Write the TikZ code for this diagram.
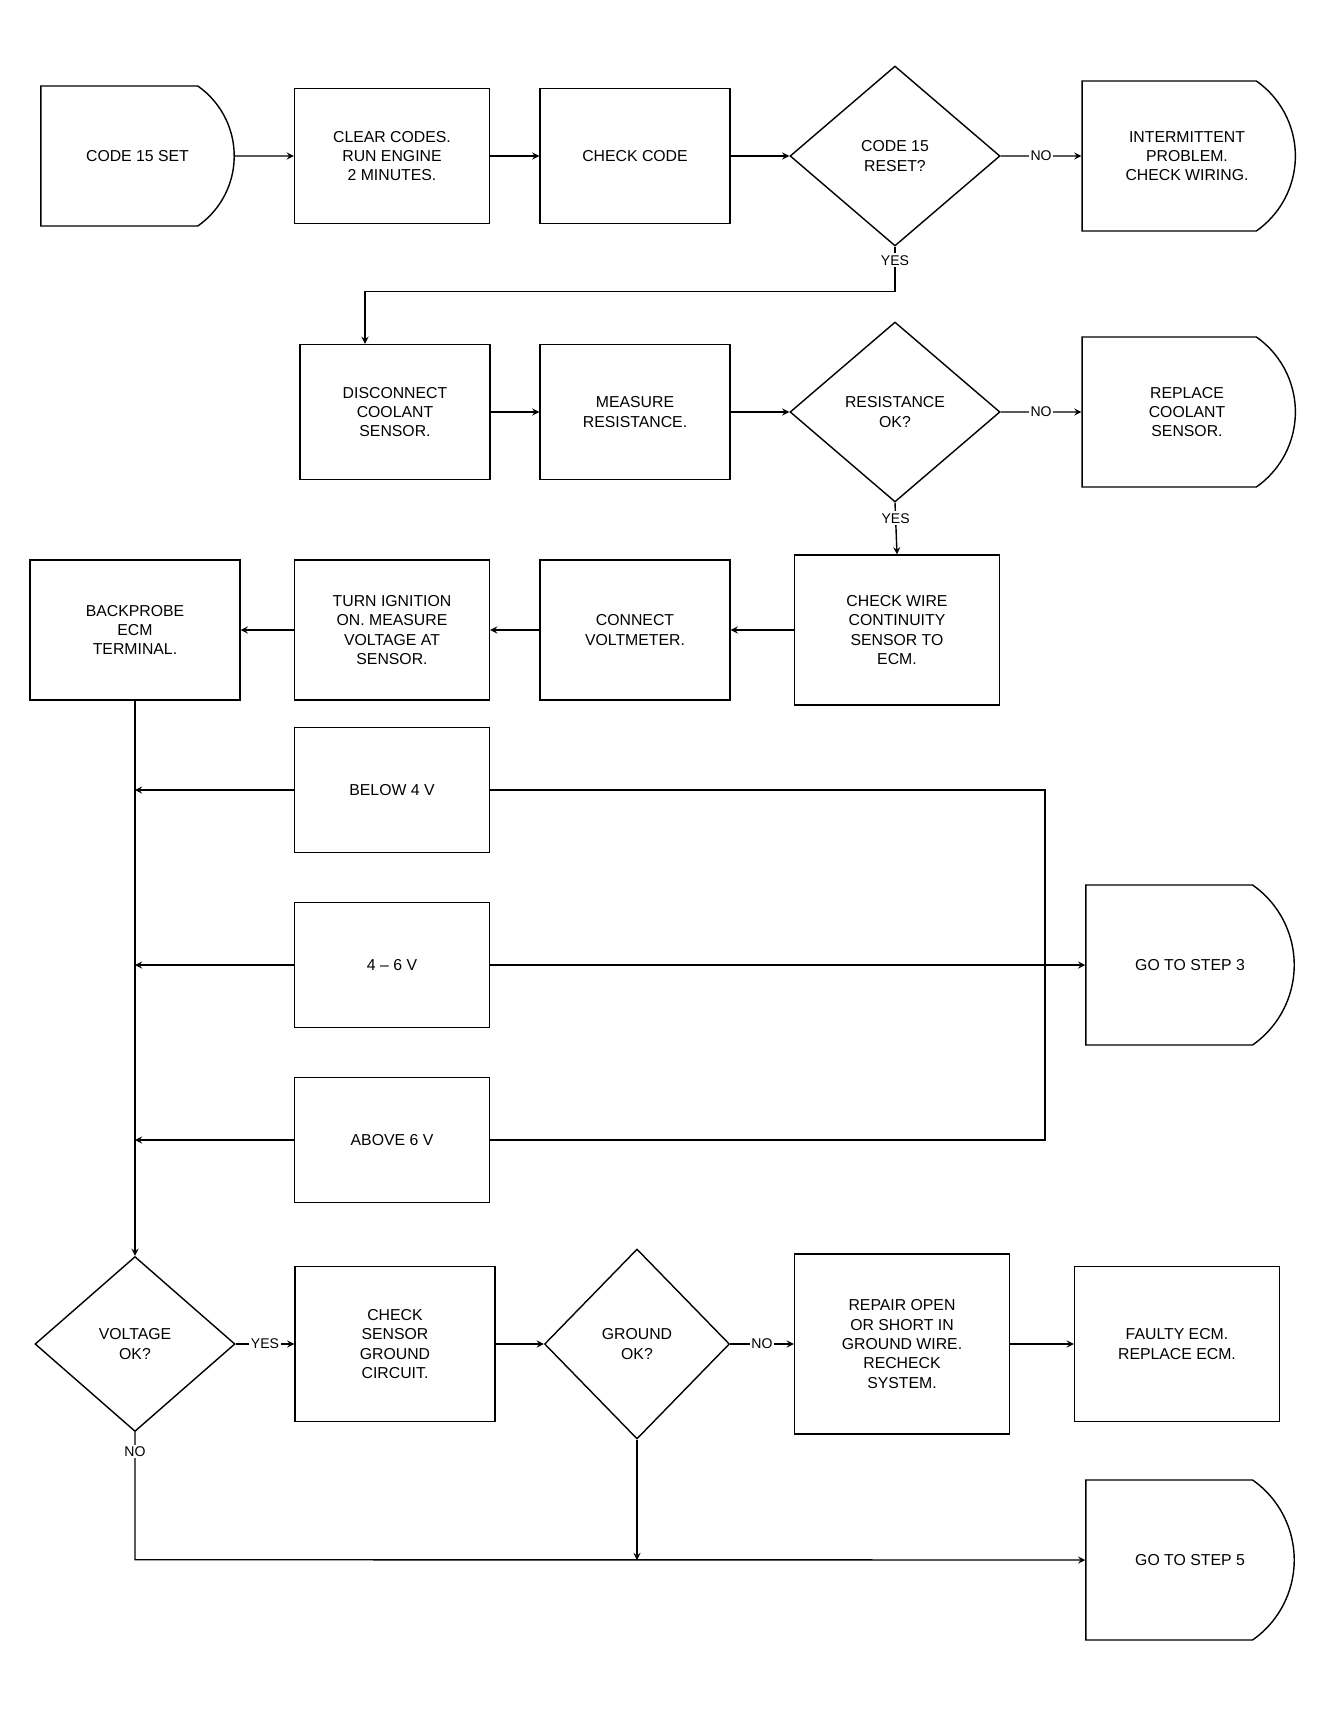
\documentclass[tikz,border=0pt]{standalone}
\usepackage{fontspec}
\setmainfont{Liberation Sans}
\usepackage{tikz}
\usetikzlibrary{arrows,shapes,positioning}
\tikzstyle{arrow} = [thick,->,>=stealth]
\tikzstyle{stepbox} = [rectangle, draw, thick, minimum width=3.9cm, minimum height=2.7cm, text centered, align=center, font=\small]
\tikzstyle{decision} = [diamond, draw, thick, minimum width=4.2cm, minimum height=3.6cm, inner sep=0pt, align=center, font=\small]
\tikzstyle{exitbox} = [rounded rectangle, rounded rectangle left arc=none, rounded rectangle arc length=110, draw, thick, minimum width=4.4cm, minimum height=3cm, align=center, font=\small]
\tikzstyle{answer} = [fill=white, font=\footnotesize, inner sep=1pt]

\begin{document}
\begin{tikzpicture}
\useasboundingbox (0,0) rectangle (26.82,-34.46);

% Row 1: start and first check
\node[exitbox, minimum width=4.1cm, minimum height=2.8cm] (start) at (2.75,-3.12) {CODE 15 SET};
\node[stepbox] (clear) at (7.84,-3.12) {CLEAR CODES.\\RUN ENGINE\\2 MINUTES.};
\node[stepbox, minimum width=3.8cm] (read) at (12.7,-3.12) {CHECK CODE};
\node[decision] (reset) at (17.9,-3.12) {CODE 15\\RESET?};
\node[exitbox, minimum width=4.5cm] (intermit) at (23.74,-3.12) {INTERMITTENT\\PROBLEM.\\CHECK WIRING.};

% Row 2: sensor resistance
\node[stepbox, minimum width=3.8cm] (unplug) at (7.9,-8.24) {DISCONNECT\\COOLANT\\SENSOR.};
\node[stepbox, minimum width=3.8cm] (ohms) at (12.7,-8.24) {MEASURE\\RESISTANCE.};
\node[decision] (ohmsok) at (17.9,-8.24) {RESISTANCE\\OK?};
\node[exitbox, minimum width=4.5cm] (sensor) at (23.74,-8.24) {REPLACE\\COOLANT\\SENSOR.};

% Row 3: wiring and voltage
\node[stepbox, minimum width=4.1cm, minimum height=3cm] (wire) at (17.94,-12.6) {CHECK WIRE\\CONTINUITY\\SENSOR TO\\ECM.};
\node[stepbox, minimum width=3.8cm, minimum height=2.8cm] (meter) at (12.7,-12.6) {CONNECT\\VOLTMETER.};
\node[stepbox, minimum height=2.8cm] (ignon) at (7.84,-12.6) {TURN IGNITION\\ON. MEASURE\\VOLTAGE AT\\SENSOR.};
\node[stepbox, minimum width=4.2cm, minimum height=2.8cm] (probe) at (2.7,-12.6) {BACKPROBE\\ECM\\TERMINAL.};

% Voltage readings
\node[stepbox, minimum height=2.5cm] (low) at (7.84,-15.8) {BELOW 4 V};
\node[stepbox, minimum height=2.5cm] (mid) at (7.84,-19.3) {4 -- 6 V};
\node[stepbox, minimum height=2.5cm] (high) at (7.84,-22.8) {ABOVE 6 V};
\node[exitbox, minimum height=3.2cm] (step3) at (23.8,-19.3) {GO TO STEP 3};
\coordinate (rt) at (20.9,-19.3);

% Row 7: ground circuit
\node[decision, minimum width=4cm, minimum height=3.5cm] (voltok) at (2.7,-26.88) {VOLTAGE\\OK?};
\node[stepbox, minimum width=4cm, minimum height=3.1cm] (gnd) at (7.9,-26.88) {CHECK\\SENSOR\\GROUND\\CIRCUIT.};
\node[decision, minimum width=3.7cm, minimum height=3.8cm] (gndok) at (12.74,-26.88) {GROUND\\OK?};
\node[stepbox, minimum width=4.3cm, minimum height=3.6cm] (repair) at (18.04,-26.88) {REPAIR OPEN\\OR SHORT IN\\GROUND WIRE.\\RECHECK\\SYSTEM.};
\node[stepbox, minimum width=4.1cm, minimum height=3.1cm] (ecm) at (23.54,-26.88) {FAULTY ECM.\\REPLACE ECM.};
\node[exitbox, minimum height=3.2cm] (step5) at (23.8,-31.2) {GO TO STEP 5};

% Connectors
\draw[arrow] (start) -- (clear);
\draw[arrow] (clear) -- (read);
\draw[arrow] (read) -- (reset);
\draw[arrow] (reset) -- node[answer] {NO} (intermit);
\draw[arrow] (reset.south) -- node[answer, pos=0.3] {YES} ++(0,-0.9) -| ([xshift=-0.6cm]unplug.north);
\draw[arrow] (unplug) -- (ohms);
\draw[arrow] (ohms) -- (ohmsok);
\draw[arrow] (ohmsok) -- node[answer] {NO} (sensor);
\draw[arrow] (ohmsok.south) -- node[answer, pos=0.3] {YES} (wire.north);
\draw[arrow] (wire) -- (meter);
\draw[arrow] (meter) -- (ignon);
\draw[arrow] (ignon) -- (probe);
\draw[arrow] (probe.south) -- (voltok.north);
\draw[arrow] (low.west) -- (low.west -| probe.south);
\draw[arrow] (mid.west) -- (mid.west -| probe.south);
\draw[arrow] (high.west) -- (high.west -| probe.south);
\draw[thick] (low.east) -| (rt);
\draw[thick] (high.east) -| (rt);
\draw[arrow] (mid.east) -- (step3.west);
\draw[arrow] (voltok) -- node[answer] {YES} (gnd);
\draw[arrow] (gnd) -- (gndok);
\draw[arrow] (gndok) -- node[answer] {NO} (repair);
\draw[arrow] (repair) -- (ecm);
\draw[arrow] (voltok.south) -- node[answer, pos=0.15] {NO} ++(0,-2.55) -- (step5.west);
\draw[arrow] (gndok.south) -- (gndok.south |- step5.west);
\end{tikzpicture}
\end{document}
